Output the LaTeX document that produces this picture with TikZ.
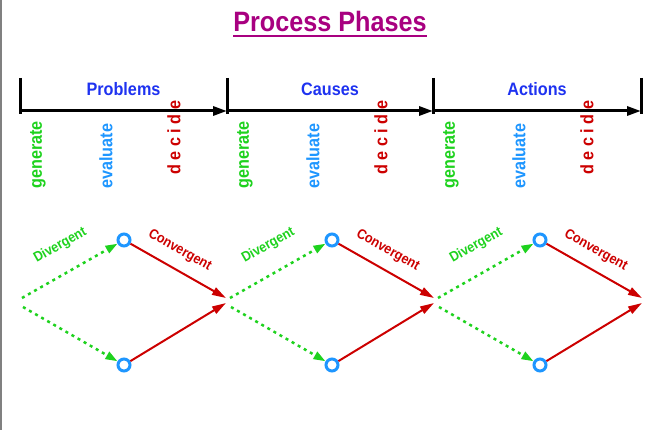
\documentclass[tikz,border=0pt]{standalone}
\usepackage{fontspec}
\setmainfont{Liberation Sans}[FakeStretch=0.9]
\usetikzlibrary{arrows.meta,positioning}
\definecolor{titlemag}{RGB}{168,0,128}
\definecolor{phaseblue}{RGB}{30,50,240}
\definecolor{divgreen}{RGB}{30,210,30}
\definecolor{ringblue}{RGB}{30,150,255}
\definecolor{convred}{RGB}{204,0,0}

\begin{document}
\begin{tikzpicture}[x=1pt,y=-1pt,
  title/.style={font=\bfseries\fontsize{28}{28}\selectfont, text=titlemag, inner sep=0pt, anchor=base},
  phase/.style={font=\bfseries\fontsize{18}{18}\selectfont, text=phaseblue, inner sep=0pt},
  vlabel/.style={font=\bfseries\fontsize{18}{18}\selectfont, rotate=90, anchor=west, inner sep=0pt},
  axis/.style={line width=3pt, -{Triangle[length=14pt,width=9pt]}},
  tick/.style={line width=3pt},
  ring/.style={circle, draw=ringblue, line width=3pt, fill=white, minimum size=12pt, inner sep=0pt},
  div/.style={draw=divgreen, line width=2.5pt, dash pattern=on 3pt off 4pt, -{Triangle[length=12pt,width=8pt]}},
  conv/.style={draw=convred, line width=2pt, -{Triangle[length=14pt,width=8pt]}},
  divlbl/.style={font=\bfseries\fontsize{14}{14}\selectfont, text=divgreen, inner sep=0pt},
  convlbl/.style={font=\bfseries\fontsize{14}{14}\selectfont, text=convred, inner sep=0pt}
]
\useasboundingbox (0,0) rectangle (669,430);
\fill[gray] (0,0) rectangle (2,430);

% title
\node[title] (title) at (330,32) {Process Phases};
\draw[titlemag, line width=1.5pt] ([yshift=-4pt]title.base west) -- ([yshift=-4pt]title.base east);

% time line
\coordinate (t0) at (20,111);
\coordinate (t1) at (227,111);
\coordinate (t2) at (433,111);
\coordinate (t3) at (641,111);
\foreach \i in {0,...,3}
  \draw[tick] (t\i) ++(0,-33) -- ++(0,36);
\draw[axis] (t0) -- (t1) node[phase, midway, above=14pt] (problems) {Problems};
\draw[axis] (t1) -- (t2) node[phase, midway, above=14pt] (causes) {Causes};
\draw[axis] (t2) -- (t3) node[phase, midway, above=14pt] (actions) {Actions};

\foreach \x [count=\i] in {20,227,433} {
  \node[vlabel, text=divgreen] (gen\i) at (\x+18,189) {generate};
  \node[vlabel, text=ringblue] (eval\i) at (\x+86,189) {evaluate};
  \node[vlabel, text=convred] (dec\i) at (\x+154,175) {d e c i d e};
}

% diverge / converge
\foreach \x [count=\i] in {21,229,437} {
  \coordinate (su\i) at (\x+1,298);
  \coordinate (sl\i) at (\x+2,307);
  \node[ring] (top\i) at (\x+103,240) {};
  \node[ring] (bot\i) at (\x+103,365) {};
  \coordinate (eu\i) at (\x+205,298);
  \coordinate (el\i) at (\x+205,303);
  \draw[div] (su\i) -- (top\i) node[divlbl, pos=.54, sloped, above=19pt] {Divergent};
  \draw[div] (sl\i) -- (bot\i);
  \draw[conv] (top\i) -- (eu\i) node[convlbl, pos=.42, sloped, above=11pt] {Convergent};
  \draw[conv] (bot\i) -- (el\i);
}
\end{tikzpicture}
\end{document}
